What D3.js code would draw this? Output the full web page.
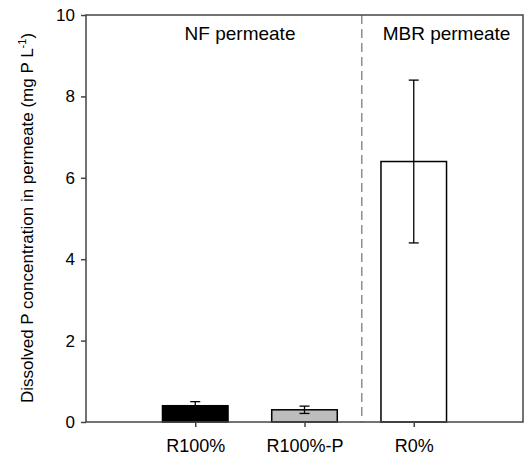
<!DOCTYPE html>
<html>
<head>
<meta charset="utf-8">
<script src="https://cdn.jsdelivr.net/npm/d3@7"></script>
<style>
  body { margin: 0; background: #fff; }
  svg text { font-family: "Liberation Sans", Arial, sans-serif; fill: #000; }
</style>
</head>
<body>
<svg id="chart" width="529" height="459"></svg>
<script>
var categories = ['R100%', 'R100%-P', 'R0%'],
    values = [0.4, 0.3, 6.4],
    errors = [0.1, 0.09, 2.0],
    fills = ['#000000', '#bdbdbd', '#ffffff'],
    yTicks = [0, 2, 4, 6, 8, 10],
    groupLabels = ['NF permeate', 'MBR permeate'];

var margin = { top: 15, right: 6, bottom: 37, left: 86 },
    width = 529 - margin.left - margin.right,
    height = 459 - margin.top - margin.bottom;

var svg = d3.select('#chart');
var g = svg.append('g')
    .attr('transform', 'translate(' + margin.left + ',' + margin.top + ')');

// x positions 1..3 on a 0..4 linear scale
var x = d3.scaleLinear().domain([0, 4]).range([0, width]);
var y = d3.scaleLinear().domain([0, 10]).range([height, 0]);
var barW = x(0.6) - x(0);

// bars
g.selectAll('rect.bar')
    .data(values)
    .enter().append('rect')
    .attr('class', 'bar')
    .attr('x', function(d, i) { return x(i + 1) - barW / 2; })
    .attr('y', function(d) { return y(d); })
    .attr('width', barW)
    .attr('height', function(d) { return y(0) - y(d); })
    .style('fill', function(d, i) { return fills[i]; })
    .style('stroke', '#000')
    .style('stroke-width', 1.5);

// error bars
var capW = 10;
values.forEach(function(v, i) {
    var cx = x(i + 1);
    var eb = g.append('g').style('stroke', '#000').style('stroke-width', 1.3);
    eb.append('line').attr('x1', cx).attr('x2', cx).attr('y1', y(v + errors[i])).attr('y2', y(v - errors[i]));
    eb.append('line').attr('x1', cx - capW / 2).attr('x2', cx + capW / 2).attr('y1', y(v + errors[i])).attr('y2', y(v + errors[i]));
    eb.append('line').attr('x1', cx - capW / 2).attr('x2', cx + capW / 2).attr('y1', y(v - errors[i])).attr('y2', y(v - errors[i]));
});

// dashed separator
g.append('line')
    .attr('x1', x(2.525)).attr('x2', x(2.525))
    .attr('y1', 0).attr('y2', height)
    .style('stroke', '#555')
    .style('stroke-width', 1)
    .style('stroke-dasharray', '9,5');

// frame
g.append('rect')
    .attr('width', width).attr('height', height)
    .style('fill', 'none')
    .style('stroke', '#444')
    .style('stroke-width', 1.5);

// y axis
var yAxis = d3.axisLeft(y).tickValues(yTicks).tickSize(5).tickPadding(6);
var ya = g.append('g').call(yAxis);
ya.select('.domain').remove();
ya.selectAll('line').style('stroke', '#444').style('stroke-width', 1.5);
ya.selectAll('text').style('font-size', '17px').style('font-family', '"Liberation Sans", Arial, sans-serif');

// x axis
var xAxis = d3.axisBottom(x).tickValues([1, 2, 3])
    .tickFormat(function(d) { return categories[d - 1]; })
    .tickSize(5).tickPadding(12);
var xa = g.append('g').attr('transform', 'translate(0,' + height + ')').call(xAxis);
xa.select('.domain').remove();
xa.selectAll('line').style('stroke', '#444').style('stroke-width', 1.5);
xa.selectAll('text').style('font-size', '18px').style('font-family', '"Liberation Sans", Arial, sans-serif');

// group labels
g.append('text')
    .attr('x', x(1.41)).attr('y', 25)
    .attr('text-anchor', 'middle')
    .style('font-size', '19px')
    .text(groupLabels[0]);
g.append('text')
    .attr('x', x(3.3)).attr('y', 25)
    .attr('text-anchor', 'middle')
    .style('font-size', '19px')
    .text(groupLabels[1]);

// y label
var yl = svg.append('text')
    .attr('transform', 'translate(33,218) rotate(-90)')
    .attr('text-anchor', 'middle')
    .style('font-size', '17px');
yl.append('tspan').text('Dissolved P concentration in permeate (mg P L');
yl.append('tspan').attr('dy', -7).style('font-size', '11px').text('-1');
yl.append('tspan').attr('dy', 7).text(')');
</script>
</body>
</html>
